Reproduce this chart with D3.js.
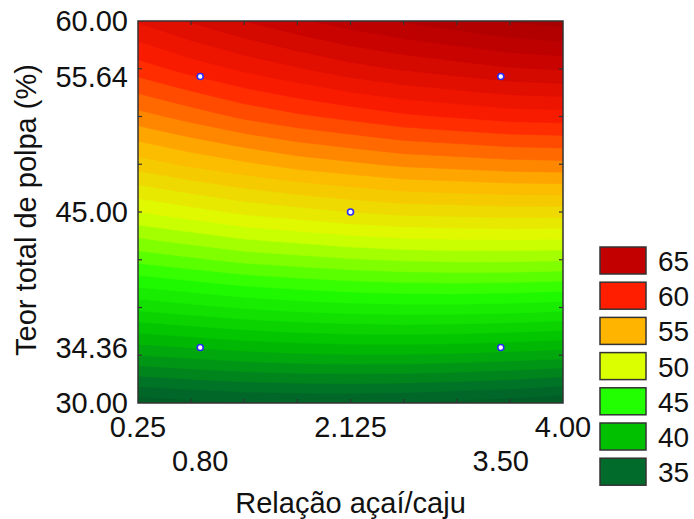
<!DOCTYPE html>
<html>
<head>
<meta charset="utf-8">
<script src="https://cdn.jsdelivr.net/npm/d3@7"></script>
<style>
    body { margin: 0; background: #fff; }
    text { font-family: "Liberation Sans", Arial, sans-serif; fill: #111; }
    .tickText { font-size: 29px; }
    .axisTitle { font-size: 29px; }
    .legendText { font-size: 28px; }
</style>
</head>
<body>
<script>
// x axis: relação açaí/caju, drawn in coded units (-α .. +α)
var ratioLabels = ["0.25", "0.80", "2.125", "3.50", "4.00"];
var ratioCoded = [-1.414, -1, 0, 1, 1.414];
var ratioRow = [0, 1, 0, 1, 0];

// y axis: teor total de polpa (%)
var pulpTicks = [30, 34.36, 45, 55.64, 60];

// design points (coded ratio, pulp %)
var pointRatio = [-1, 1, 0, -1, 1];
var pointPulp = [34.36, 34.36, 45, 55.64, 55.64];

// response, 9 x 9 grid, top row = 60 %, left column = 0.25
var surface = [
    [62.1, 63.1, 64.0, 64.8, 65.5, 66.1, 66.6, 67.1, 67.4],
    [59.5, 60.4, 61.2, 61.9, 62.6, 63.1, 63.5, 63.9, 64.1],
    [56.6, 57.4, 58.2, 58.8, 59.3, 59.8, 60.1, 60.4, 60.5],
    [53.5, 54.2, 54.8, 55.4, 55.8, 56.2, 56.4, 56.6, 56.7],
    [50.0, 50.6, 51.2, 51.6, 52.0, 52.3, 52.4, 52.5, 52.5],
    [46.3, 46.8, 47.3, 47.6, 47.9, 48.1, 48.2, 48.2, 48.1],
    [42.3, 42.7, 43.1, 43.4, 43.6, 43.7, 43.7, 43.6, 43.4],
    [38.0, 38.3, 38.6, 38.8, 38.9, 38.9, 38.8, 38.6, 38.4],
    [33.4, 33.7, 33.9, 34.0, 34.0, 33.9, 33.7, 33.5, 33.1]
];

// legend levels and colours
var legendLevels = [65, 60, 55, 50, 45, 40, 35];
var legendColors = ["#c20000", "#ff1e00", "#ffb400", "#dcff00", "#22ff00", "#00c000", "#006b2a"];

var ContourChart = (function () {
    var svg, x, y, color;
    var width = 694, height = 519;
    var plot = { left: 138, top: 21, right: 563, bottom: 403 };

    return {
        init: init
    };

    function init() {
        svg = d3.select("body").append("svg")
            .attr("width", width)
            .attr("height", height);

        x = d3.scaleLinear()
            .domain([ratioCoded[0], ratioCoded[ratioCoded.length - 1]])
            .range([plot.left, plot.right]);

        y = d3.scaleLinear()
            .domain([pulpTicks[0], pulpTicks[pulpTicks.length - 1]])
            .range([plot.bottom, plot.top]);

        //Colour ramp through the legend levels, extended a little past both ends
        var domain = [30].concat(legendLevels.slice().reverse(), [70]);
        var range = ["#00401c"].concat(legendColors.slice().reverse(), ["#8c0000"]);
        color = d3.scaleLinear().domain(domain).range(range);

        drawSurface();
        drawFrame();
        drawPoints();
        drawAxes();
        drawLegend();
    }

    function drawSurface() {
        var n = surface[0].length, m = surface.length;
        var values = [].concat.apply([], surface);

        //grid cell centres sit at i + 0.5
        var gx = d3.scaleLinear().domain([0.5, n - 0.5]).range([plot.left, plot.right]);
        var gy = d3.scaleLinear().domain([0.5, m - 0.5]).range([plot.top, plot.bottom]);

        var proj = d3.geoTransform({
            point: function (px, py) { this.stream.point(gx(px), gy(py)); }
        });
        var path = d3.geoPath(proj);

        var bands = d3.contours()
            .size([n, m])
            .thresholds(d3.range(30, 70, 1))(values);

        svg.append("clipPath")
            .attr("id", "plotClip")
            .append("rect")
            .attr("x", plot.left)
            .attr("y", plot.top)
            .attr("width", plot.right - plot.left)
            .attr("height", plot.bottom - plot.top);

        svg.append("g")
            .attr("clip-path", "url(#plotClip)")
            .selectAll("path")
            .data(bands)
            .enter()
            .append("path")
            .attr("d", path)
            .attr("fill", function (d) { return color(d.value + 0.5); })
            .attr("stroke", function (d) { return color(d.value + 0.5); })
            .attr("stroke-width", 0.6);
    }

    function drawFrame() {
        var g = svg.append("g");

        g.append("rect")
            .attr("x", plot.left)
            .attr("y", plot.top)
            .attr("width", plot.right - plot.left)
            .attr("height", plot.bottom - plot.top)
            .attr("fill", "none")
            .attr("stroke", "#333")
            .attr("stroke-width", 1.5);

        //small inward ticks, 8 intervals on every side
        var steps = d3.range(1, 8);
        var tx = d3.scaleLinear().domain([0, 8]).range([plot.left, plot.right]);
        var ty = d3.scaleLinear().domain([0, 8]).range([plot.top, plot.bottom]);

        steps.forEach(function (s) {
            g.append("line").attr("x1", tx(s)).attr("x2", tx(s))
                .attr("y1", plot.top).attr("y2", plot.top + 4);
            g.append("line").attr("x1", tx(s)).attr("x2", tx(s))
                .attr("y1", plot.bottom).attr("y2", plot.bottom - 4);
            g.append("line").attr("y1", ty(s)).attr("y2", ty(s))
                .attr("x1", plot.left).attr("x2", plot.left + 4);
            g.append("line").attr("y1", ty(s)).attr("y2", ty(s))
                .attr("x1", plot.right).attr("x2", plot.right - 4);
        });

        g.selectAll("line")
            .attr("stroke", "#333")
            .attr("stroke-width", 1.2);
    }

    function drawPoints() {
        svg.append("g")
            .selectAll("circle")
            .data(pointRatio)
            .enter()
            .append("circle")
            .attr("cx", function (d) { return x(d); })
            .attr("cy", function (d, i) { return y(pointPulp[i]); })
            .attr("r", 3)
            .attr("fill", "#fff")
            .attr("stroke", "#2a2aff")
            .attr("stroke-width", 1.6);
    }

    function drawAxes() {
        //y tick labels
        svg.append("g")
            .selectAll("text")
            .data(pulpTicks)
            .enter()
            .append("text")
            .attr("class", "tickText")
            .attr("x", plot.left - 10)
            .attr("y", function (d) { return y(d); })
            .attr("dy", "0.36em")
            .attr("text-anchor", "end")
            .text(d3.format(".2f"));

        //x tick labels, staggered on two rows
        svg.append("g")
            .selectAll("text")
            .data(ratioLabels)
            .enter()
            .append("text")
            .attr("class", "tickText")
            .attr("x", function (d, i) { return x(ratioCoded[i]); })
            .attr("y", function (d, i) { return ratioRow[i] ? 471 : 437; })
            .attr("text-anchor", "middle")
            .text(function (d) { return d; });

        svg.append("text")
            .attr("class", "axisTitle")
            .attr("x", (plot.left + plot.right) / 2)
            .attr("y", 513)
            .attr("text-anchor", "middle")
            .text("Relação açaí/caju");

        svg.append("text")
            .attr("class", "axisTitle")
            .attr("transform", "translate(36," + 210 + ") rotate(-90)")
            .attr("text-anchor", "middle")
            .text("Teor total de polpa (%)");
    }

    function drawLegend() {
        var ly = d3.scaleLinear().domain([0, 1]).range([247, 282.2]);

        var items = svg.append("g")
            .selectAll("g")
            .data(legendLevels)
            .enter()
            .append("g")
            .attr("transform", function (d, i) { return "translate(600," + ly(i) + ")"; });

        items.append("rect")
            .attr("width", 46)
            .attr("height", 27)
            .attr("fill", function (d, i) { return legendColors[i]; })
            .attr("stroke", "#333")
            .attr("stroke-width", 1.5);

        items.append("text")
            .attr("class", "legendText")
            .attr("x", 58)
            .attr("y", 14)
            .attr("dy", "0.36em")
            .text(function (d) { return d; });
    }
}());

ContourChart.init();
</script>
</body>
</html>
